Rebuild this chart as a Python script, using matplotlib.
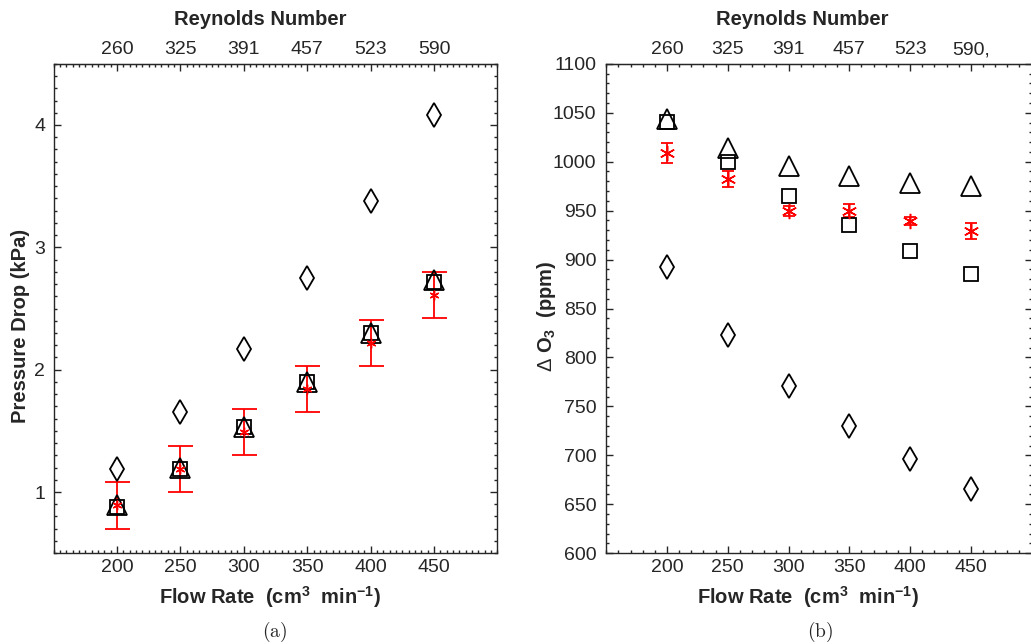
import matplotlib
matplotlib.use("Agg")
import matplotlib.pyplot as plt
from matplotlib.ticker import MultipleLocator, FixedLocator, FixedFormatter

# ---------------- data ----------------
flow = [200, 250, 300, 350, 400, 450]
re_labels_a = ['260', '325', '391', '457', '523', '590']
re_labels_b = ['260', '325', '391', '457', '523', '590,']

# (a) pressure drop (kPa)
dp_diamond = [1.19, 1.65, 2.17, 2.75, 3.38, 4.08]
dp_square = [0.88, 1.19, 1.53, 1.90, 2.30, 2.72]
dp_triangle = [0.89, 1.20, 1.53, 1.90, 2.30, 2.73]
dp_exp = [0.89, 1.19, 1.49, 1.84, 2.22, 2.61]
dp_err = [0.19, 0.19, 0.19, 0.19, 0.19, 0.19]

# (b) delta O3 (ppm)
o3_diamond = [892, 823, 771, 730, 696, 666]
o3_square = [1041, 1000, 965, 935, 909, 885]
o3_triangle = [1044, 1014, 996, 985, 978, 975]
o3_exp = [1009, 982, 950, 950, 939, 929]
o3_err = [10, 8, 5, 7, 4, 8]

# ---------------- style ----------------
plt.rcParams['font.family'] = ['Liberation Sans', 'DejaVu Sans']
plt.rcParams['mathtext.fontset'] = 'custom'
plt.rcParams['mathtext.rm'] = 'Liberation Sans'
plt.rcParams['mathtext.bf'] = 'Liberation Sans:bold'
plt.rcParams['mathtext.it'] = 'Liberation Sans:italic'
TXT = '#262626'
plt.rcParams['text.color'] = TXT
plt.rcParams['axes.edgecolor'] = TXT
plt.rcParams['xtick.color'] = TXT
plt.rcParams['ytick.color'] = TXT

W, H = 1031, 644
fig = plt.figure(figsize=(W / 100, H / 100), dpi=100)

AH = 489.4
ax_a = fig.add_axes([53.6 / W, 1 - 553.2 / H, 443.8 / W, AH / H])
ax_b = fig.add_axes([606.2 / W, 1 - 553.2 / H, 425.4 / W, AH / H])

tick_fs = 14
lab_fs = 14.5

asterisk = (6, 2, 0)
flow_label = r'Flow Rate  (cm$^{\mathbf{3}}$  min$^{\mathbf{-1}}$)'


def style_axes(ax, xminor, yminor, ypad):
    ax.set_xlim(150, 500)
    ax.xaxis.set_major_locator(FixedLocator(flow))
    ax.xaxis.set_minor_locator(MultipleLocator(xminor))
    ax.yaxis.set_minor_locator(MultipleLocator(yminor))
    ax.tick_params(which='both', direction='in', top=True, right=True,
                   labelsize=tick_fs, width=1.0)
    ax.tick_params(which='major', length=5)
    ax.tick_params(which='minor', length=2.5)
    ax.tick_params(axis='y', pad=ypad)
    ax.tick_params(axis='x', pad=4)
    for s in ax.spines.values():
        s.set_linewidth(1.0)


def add_top(ax, labels):
    sec = ax.secondary_xaxis('top')
    sec.xaxis.set_major_locator(FixedLocator(flow))
    sec.xaxis.set_major_formatter(FixedFormatter(labels))
    sec.tick_params(which='both', direction='in', labelsize=tick_fs, length=0)
    sec.tick_params(axis='x', pad=4)
    return sec


# ---------------- (a) ----------------
ax = ax_a
style_axes(ax, 5, 0.1, 6)
ax.set_ylim(0.5, 4.5)
ax.set_yticks([1, 2, 3, 4])
ax.errorbar(flow, dp_exp, yerr=dp_err, fmt='none', ecolor='red',
            elinewidth=1.3, capsize=9, capthick=1.3, zorder=2)
ax.plot(flow, dp_diamond, linestyle='none', marker='d', ms=12.5,
        mfc='none', mec='black', mew=1.3, zorder=3)
ax.plot(flow, dp_square, linestyle='none', marker='s', ms=9.5,
        mfc='none', mec='black', mew=1.3, zorder=3)
ax.plot(flow, dp_triangle, linestyle='none', marker='^', ms=14,
        mfc='none', mec='black', mew=1.3, zorder=3)
ax.plot(flow, dp_exp, linestyle='none', marker=asterisk, ms=7,
        mec='red', mew=1.0, zorder=4)
ax.text((20 - 53.6) / 443.8, (553.2 - 326) / AH, 'Pressure Drop (kPa)',
        transform=ax.transAxes, rotation=90, ha='center', va='center',
        fontsize=lab_fs, fontweight='bold')
add_top(ax, re_labels_a)
ax.text(0.465, 1.0 + 44 / AH, 'Reynolds Number', transform=ax.transAxes,
        ha='center', va='center', fontsize=lab_fs, fontweight='bold')
ax.text(0.4876, -44 / AH, flow_label,
        transform=ax.transAxes, ha='center', va='center',
        fontsize=lab_fs, fontweight='bold')
ax.text((275 - 53.6) / 443.8, -79 / AH, r'$\mathrm{(a)}$', transform=ax.transAxes,
        ha='center', va='center', fontsize=14, math_fontfamily='cm')

# ---------------- (b) ----------------
ax = ax_b
style_axes(ax, 10, 10, 7)
ax.set_ylim(600, 1100)
ax.yaxis.set_major_locator(MultipleLocator(50))
ax.errorbar(flow, o3_exp, yerr=o3_err, fmt='none', ecolor='red',
            elinewidth=1.3, capsize=4.5, capthick=1.3, zorder=2)
ax.plot(flow, o3_diamond, linestyle='none', marker='d', ms=12.5,
        mfc='none', mec='black', mew=1.3, zorder=3)
ax.plot(flow, o3_square, linestyle='none', marker='s', ms=10,
        mfc='none', mec='black', mew=1.3, zorder=3)
ax.plot(flow, o3_triangle, linestyle='none', marker='^', ms=14,
        mfc='none', mec='black', mew=1.3, zorder=3)
ax.plot(flow, o3_exp, linestyle='none', marker=asterisk, ms=11,
        mec='red', mew=1.1, zorder=4)
ax.text((546 - 606.2) / 425.4, (553.2 - 316) / AH, r'$\Delta$ O$_{\mathbf{3}}$  (ppm)',
        transform=ax.transAxes, rotation=90, ha='center', va='center',
        fontsize=lab_fs, fontweight='bold')
add_top(ax, re_labels_b)
ax.text(0.462, 1.0 + 44 / AH, 'Reynolds Number', transform=ax.transAxes,
        ha='center', va='center', fontsize=lab_fs, fontweight='bold')
ax.text(0.474, -44 / AH, flow_label,
        transform=ax.transAxes, ha='center', va='center',
        fontsize=lab_fs, fontweight='bold')
ax.text((820 - 606.2) / 425.4, -79 / AH, r'$\mathrm{(b)}$', transform=ax.transAxes,
        ha='center', va='center', fontsize=14, math_fontfamily='cm')

fig.savefig('out.png', dpi=100)
